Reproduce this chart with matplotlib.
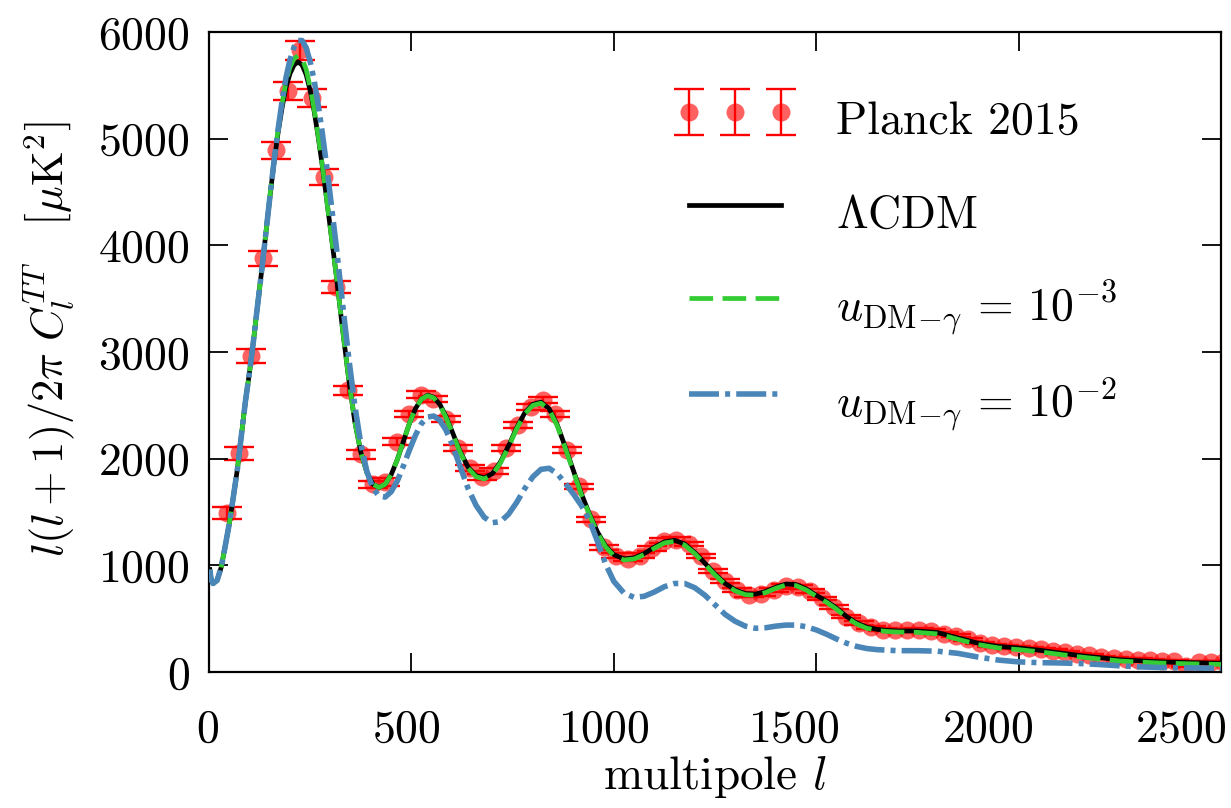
import matplotlib
matplotlib.use("Agg")
import matplotlib.pyplot as plt
import matplotlib.transforms as mtransforms

plt.rcParams["font.family"] = "serif"
plt.rcParams["font.serif"] = ["cmr10"]
plt.rcParams["mathtext.fontset"] = "cm"
plt.rcParams["axes.formatter.use_mathtext"] = True

# --- Planck 2015 binned TT points ---
ell_data = [44.5, 74.5, 104.5, 134.5, 164.5, 194.5, 224.5, 254.5, 284.5, 314.5,
            344.5, 374.5, 404.5, 434.5, 464.5, 494.5, 524.5, 554.5, 584.5, 614.5,
            644.5, 674.5, 704.5, 734.5, 764.5, 794.5, 824.5, 854.5, 884.5, 914.5,
            944.5, 974.5, 1004.5, 1034.5, 1064.5, 1094.5, 1124.5, 1154.5, 1184.5, 1214.5,
            1244.5, 1274.5, 1304.5, 1334.5, 1364.5, 1394.5, 1424.5, 1454.5, 1484.5, 1514.5,
            1544.5, 1574.5, 1604.5, 1634.5, 1664.5, 1694.5, 1724.5, 1754.5, 1784.5, 1814.5,
            1844.5, 1874.5, 1904.5, 1934.5, 1964.5, 1994.5, 2024.5, 2054.5, 2084.5, 2114.5,
            2144.5, 2174.5, 2204.5, 2234.5, 2264.5, 2294.5, 2324.5, 2354.5, 2384.5, 2414.5,
            2444.5, 2474.5, 2504.5]
dl_data = [1490, 2050, 2960, 3880, 4890, 5450, 5830, 5380, 4640, 3610,
           2640, 2040, 1760, 1780, 2160, 2420, 2600, 2560, 2370, 2100,
           1910, 1830, 1880, 2100, 2320, 2480, 2550, 2420, 2080, 1740,
           1430, 1170, 1090, 1060, 1090, 1160, 1230, 1240, 1200, 1090,
           950, 850, 770, 720, 730, 770, 810, 800, 760, 690,
           610, 520, 460, 420, 395, 390, 390, 395, 385, 360,
           340, 305, 270, 250, 240, 230, 225, 215, 200, 185,
           170, 155, 140, 130, 120, 115, 110, 105, 100, 55,
           95, 95, 90]
dl_err = [60, 60, 65, 70, 80, 85, 90, 85, 75, 60,
          45, 40, 35, 35, 30, 30, 30, 30, 30, 28,
          28, 28, 28, 28, 28, 28, 28, 28, 26, 24,
          22, 22, 22, 22, 22, 22, 22, 22, 22, 20,
          20, 20, 18, 18, 18, 18, 18, 18, 18, 16,
          16, 16, 16, 14, 14, 14, 14, 14, 14, 14,
          12, 12, 12, 12, 12, 12, 12, 12, 12, 12,
          12, 12, 12, 12, 12, 12, 12, 12, 12, 12,
          12, 12, 12]

# --- model curves ---
ell_model = [2, 5, 10, 20, 30, 40, 50, 60, 70, 80, 90, 100, 110, 120, 130, 140,
             150, 160, 170, 180, 190, 200, 210, 220, 230, 240, 250, 260, 270, 280,
             290, 300, 315, 330, 345, 360, 375, 390, 405, 420, 435, 450, 465, 480,
             495, 510, 525, 540, 555, 570, 585, 600, 620, 640, 660, 680, 700, 720,
             740, 760, 780, 800, 820, 840, 860, 880, 900, 920, 940, 960, 980, 1000,
             1025, 1050, 1075, 1100, 1125, 1150, 1175, 1200, 1225, 1250, 1275, 1300,
             1325, 1350, 1375, 1400, 1425, 1450, 1475, 1500, 1525, 1550, 1575, 1600,
             1625, 1650, 1675, 1700, 1750, 1800, 1850, 1900, 1950, 2000, 2050, 2100,
             2150, 2200, 2250, 2300, 2350, 2400, 2450, 2500]
dl_lcdm = [960, 870, 830, 860, 980, 1180, 1390, 1640, 1900, 2220, 2540, 2810, 3110, 3440, 3760, 4100,
           4440, 4760, 5040, 5280, 5480, 5610, 5690, 5720, 5690, 5600, 5450, 5250, 5010, 4740,
           4450, 4150, 3700, 3210, 2750, 2350, 2060, 1870, 1760, 1730, 1760, 1850, 1990, 2160,
           2330, 2470, 2560, 2595, 2575, 2510, 2400, 2260, 2070, 1920, 1840, 1820, 1860, 1970,
           2120, 2290, 2430, 2510, 2530, 2470, 2320, 2110, 1890, 1670, 1480, 1310, 1180, 1100,
           1060, 1070, 1110, 1170, 1220, 1235, 1200, 1120, 1020, 920, 830, 770,
           735, 730, 755, 795, 825, 820, 780, 720, 665, 600, 520, 460,
           420, 400, 390, 385, 385, 370, 320, 270, 240, 225, 205, 180,
           155, 135, 115, 105, 95, 90, 86, 82]
dl_u3 = [960, 870, 830, 860, 980, 1180, 1390, 1640, 1900, 2220, 2540, 2810, 3110, 3440, 3760, 4100,
         4450, 4780, 5070, 5320, 5530, 5670, 5750, 5780, 5750, 5650, 5480, 5270, 5020, 4750,
         4450, 4150, 3700, 3210, 2750, 2350, 2060, 1870, 1760, 1730, 1760, 1850, 1990, 2160,
         2330, 2470, 2560, 2590, 2570, 2500, 2390, 2250, 2060, 1910, 1830, 1810, 1850, 1960,
         2110, 2280, 2420, 2500, 2520, 2460, 2310, 2100, 1880, 1660, 1470, 1300, 1170, 1090,
         1050, 1060, 1100, 1160, 1210, 1225, 1190, 1110, 1010, 910, 820, 760,
         725, 720, 745, 785, 815, 810, 770, 710, 655, 590, 510, 450,
         410, 390, 380, 375, 372, 357, 307, 257, 226, 210, 190, 166,
         142, 122, 103, 93, 84, 79, 75, 71]
dl_u2 = [960, 870, 830, 860, 980, 1180, 1390, 1640, 1900, 2220, 2540, 2810, 3110, 3440, 3760, 4100,
         4440, 4770, 5070, 5340, 5570, 5740, 5860, 5920, 5920, 5850, 5720, 5540, 5310, 5050,
         4760, 4450, 3970, 3450, 2950, 2500, 2140, 1880, 1720, 1650, 1640, 1690, 1790, 1930,
         2080, 2220, 2330, 2390, 2400, 2360, 2270, 2140, 1930, 1720, 1560, 1450, 1400, 1410,
         1480, 1590, 1720, 1830, 1900, 1910, 1860, 1770, 1670, 1560, 1420, 1220, 1010, 850,
         740, 700, 710, 750, 800, 830, 830, 790, 720, 630, 540, 475,
         430, 410, 415, 430, 440, 440, 425, 395, 355, 310, 270, 240,
         220, 210, 205, 200, 200, 195, 175, 140, 112, 95, 88, 85,
         80, 70, 58, 48, 42, 39, 37, 35]

x_ticks = [0, 500, 1000, 1500, 2000, 2500]
y_ticks = [0, 1000, 2000, 3000, 4000, 5000, 6000]
x_label_shift_px = [-2, -5, -10, -22, -31, -40]

FS = 33

fig = plt.figure(figsize=(12.31, 8.08), dpi=100)
ax = fig.add_axes([0.1698, 0.1683, 0.8221, 0.7921])

eb = ax.errorbar(ell_data, dl_data, yerr=dl_err, fmt="o", ms=13,
                 mfc=(1, 0, 0, 0.62), mec="none", ecolor="red",
                 elinewidth=1.7, capsize=10.5, capthick=1.7, zorder=1)
l_lcdm, = ax.plot(ell_model, dl_lcdm, color="black", lw=3.4, zorder=2)
l_u3, = ax.plot(ell_model, dl_u3, color="#33cc33", lw=3.4, ls=(0, (5, 2)), zorder=3)
l_u2, = ax.plot(ell_model, dl_u2, color="#4a86b8", lw=4.0, ls=(0, (5.4, 1.1, 0.9, 1.1)), zorder=4)

ax.set_xlim(0, 2500)
ax.set_ylim(0, 6000)
ax.set_xticks(x_ticks)
ax.set_yticks(y_ticks)
ax.tick_params(direction="in", length=14, width=1.3, top=True, right=True,
               labelsize=FS, pad=14)
ax.tick_params(axis="x", pad=27)
for sp in ax.spines.values():
    sp.set_linewidth(1.6)

for lab, dx in zip(ax.get_xticklabels(), x_label_shift_px):
    lab.set_transform(lab.get_transform()
                      + mtransforms.ScaledTranslation(dx / 100, 0, fig.dpi_scale_trans))

ax.set_xlabel(r"multipole $l$", fontsize=34, labelpad=2)
ax.set_ylabel(r"$l(l+1)/2\pi\ C_l^{TT}\quad\left[\mu\mathrm{K}^2\right]$", fontsize=32)
ax.yaxis.set_label_coords(-0.13, 0.52)

ax.legend([eb, l_lcdm, l_u3, l_u2],
          ["Planck 2015", r"$\Lambda\mathrm{CDM}$",
           r"$u_{\mathrm{DM}\!-\!\gamma}\,=\,10^{-3}$", r"$u_{\mathrm{DM}\!-\!\gamma}\,=\,10^{-2}$"],
          loc="upper right", bbox_to_anchor=(0.897, 0.91), frameon=False,
          fontsize=FS, numpoints=3, handlelength=2.6, handletextpad=0.9,
          handleheight=1.6, labelspacing=0.75, borderpad=0, borderaxespad=0)

fig.savefig("out.png", dpi=100)
